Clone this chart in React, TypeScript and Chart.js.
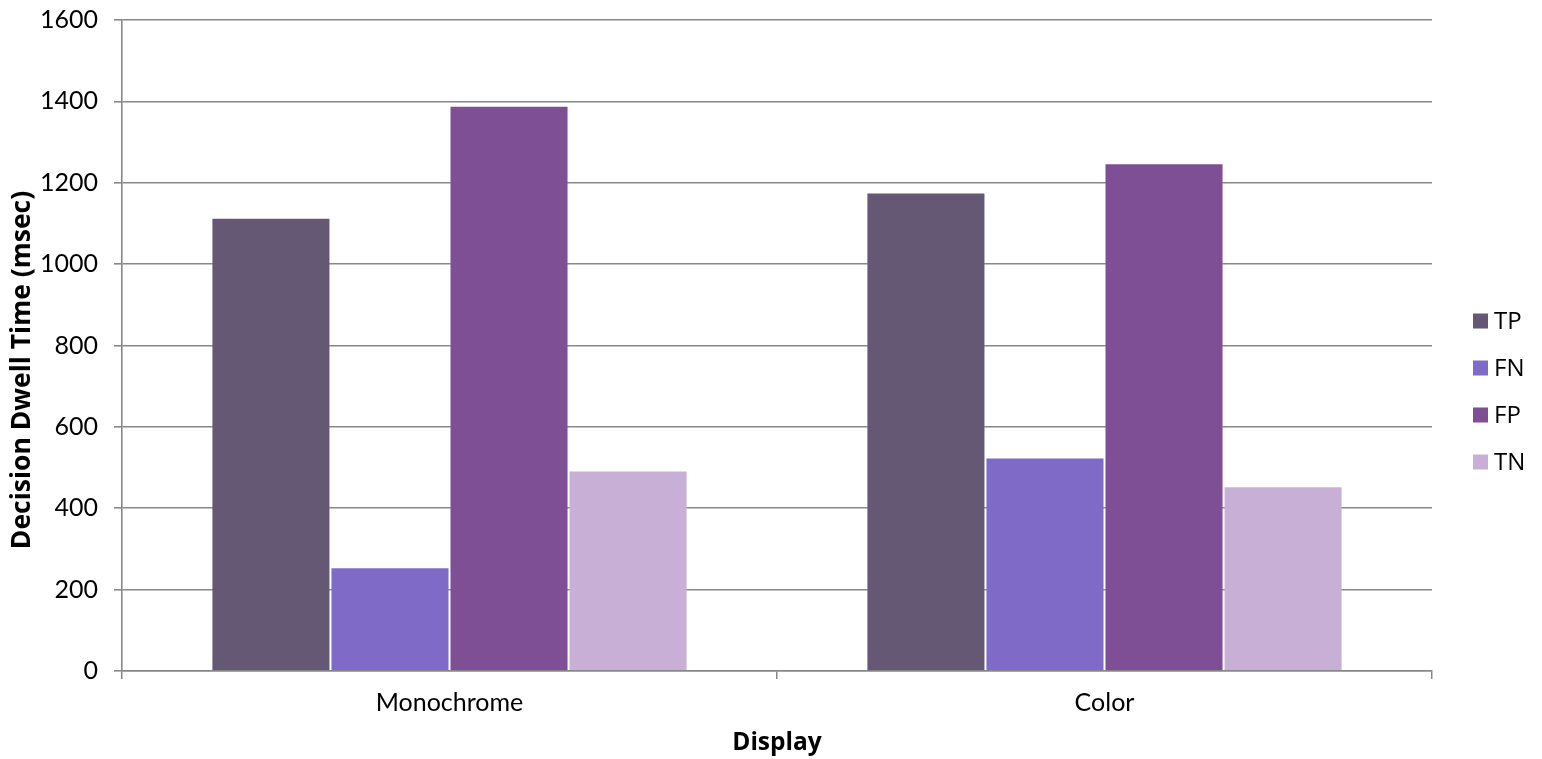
import { useEffect, useRef } from "react";
import { Chart, registerables } from "chart.js";

Chart.register(...registerables);

// Display conditions on the category axis
const categories = ["Monochrome", "Color"];

// Mean decision dwell time (msec) per outcome type
const tpValues = [1114, 1176];
const fnValues = [255, 525];
const fpValues = [1389, 1248];
const tnValues = [493, 454];

const seriesNames = ["TP", "FN", "FP", "TN"];
const seriesValues = [tpValues, fnValues, fpValues, tnValues];
const seriesColors = ["#655874", "#7F6BC7", "#7F4F96", "#C8AFD5"];

const yMin = 0;
const yMax = 1600;
const yStep = 200;

const xTitle = "Display";
const yTitle = "Decision Dwell Time (msec)";

const AXIS_GRAY = "#878787";
const TICK_FONT = { family: "Lato, 'Open Sans', sans-serif", size: 25 };
const TITLE_FAMILY = "'Open Sans', Lato, sans-serif";

// Square-swatch legend stacked on the right of the plot
const sideLegend = {
  id: "sideLegend",
  afterDraw(chart: any) {
    const { ctx, chartArea } = chart;
    ctx.save();
    const x = chartArea.right + 41;
    let y = 321;
    ctx.font = "24px 'Open Sans', sans-serif";
    ctx.textBaseline = "middle";
    ctx.textAlign = "left";
    chart.data.datasets.forEach((ds: any) => {
      ctx.fillStyle = ds.backgroundColor;
      ctx.fillRect(x, y - 7.5, 15, 15);
      ctx.fillStyle = "#000";
      ctx.fillText(ds.label, x + 21, y + 1);
      y += 47;
    });
    ctx.restore();
  },
};

// Rotated value-axis title, placed a little below the plot's mid-height
const valueAxisTitle = {
  id: "valueAxisTitle",
  afterDraw(chart: any) {
    const { ctx } = chart;
    ctx.save();
    ctx.translate(22, 370);
    ctx.rotate(-Math.PI / 2);
    ctx.font = `bold 26.5px ${TITLE_FAMILY}`;
    ctx.fillStyle = "#000";
    ctx.textAlign = "center";
    ctx.textBaseline = "middle";
    ctx.fillText(yTitle, 0, 0);
    ctx.restore();
  },
};

export default function App() {
  const canvasRef = useRef<HTMLCanvasElement | null>(null);

  useEffect(() => {
    if (!canvasRef.current) return;
    const chart = new Chart(canvasRef.current, {
      type: "bar",
      data: {
        labels: categories,
        datasets: seriesNames.map((name, i) => ({
          label: name,
          data: seriesValues[i],
          backgroundColor: seriesColors[i],
          borderColor: "rgba(255,255,255,0.22)",
          borderWidth: 1,
          categoryPercentage: 0.727,
          barPercentage: 1,
        })),
      },
      options: {
        responsive: false,
        animation: false,
        layout: { padding: { top: 20, right: 110, left: 0, bottom: 0 } },
        plugins: {
          legend: { display: false },
          tooltip: { enabled: false },
        },
        scales: {
          x: {
            grid: {
              display: true,
              drawOnChartArea: false,
              drawTicks: true,
              tickLength: 8,
              color: AXIS_GRAY,
              lineWidth: 1.5,
              offset: true,
            },
            border: { display: true, color: AXIS_GRAY, width: 1.5 },
            ticks: { font: TICK_FONT, color: "#000", padding: 9 },
            title: {
              display: true,
              text: xTitle,
              font: { family: TITLE_FAMILY, size: 24.5, weight: "bold" },
              color: "#000",
              padding: { top: 0, bottom: 1 },
            },
            afterFit: (s: any) => {
              s.height = 88;
              s.paddingLeft = 0;
              s.paddingRight = 0;
            },
          },
          y: {
            min: yMin,
            max: yMax,
            ticks: {
              stepSize: yStep,
              font: TICK_FONT,
              color: "#000",
              padding: 16,
              callback: (v: any) => String(v),
            },
            grid: {
              color: AXIS_GRAY,
              lineWidth: 1.6,
              drawTicks: true,
              tickLength: 8,
            },
            border: { display: true, color: AXIS_GRAY, width: 1.6 },
            title: { display: false },
            afterFit: (s: any) => {
              s.width = 122;
              s.paddingTop = 0;
              s.paddingBottom = 0;
            },
          },
        },
      },
      plugins: [sideLegend, valueAxisTitle],
    });
    return () => chart.destroy();
  }, []);

  return (
    <div style={{ position: "fixed", left: 0, top: 0, width: 1542, height: 759, background: "#fff" }}>
      <canvas ref={canvasRef} width={1542} height={759} style={{ display: "block" }} />
    </div>
  );
}
